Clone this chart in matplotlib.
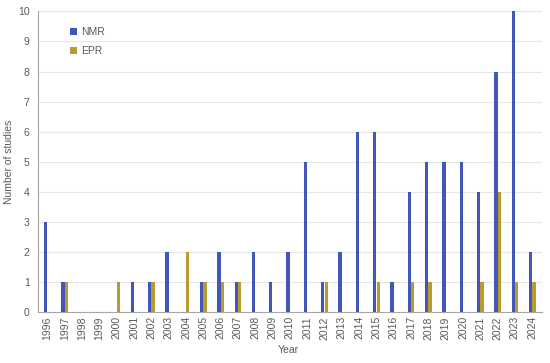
import matplotlib
matplotlib.use("Agg")
import matplotlib.pyplot as plt
import numpy as np

years = [str(y) for y in range(1996, 2025)]
nmr = [3, 1, 0, 0, 0, 1, 1, 2, 0, 1, 2, 1, 2, 1, 2, 5, 1, 2, 6, 6, 1, 4, 5, 5, 5, 4, 8, 10, 2]
epr = [0, 1, 0, 0, 1, 0, 1, 0, 2, 1, 1, 1, 0, 0, 0, 0, 1, 0, 0, 1, 0, 1, 1, 0, 0, 1, 4, 1, 1]

plt.rcParams['font.family'] = ['Liberation Sans', 'DejaVu Sans']
fig = plt.figure(figsize=(5.5, 3.63), dpi=100)
ax = fig.add_axes([0.069, 0.1405, 0.916, 0.828])

x = np.arange(len(years))
w = 0.19
c_nmr = '#4056b8'
c_epr = '#b99a30'
ax.bar(x - 0.1, nmr, width=w, color=c_nmr, label='NMR', zorder=3, linewidth=0)
ax.bar(x + 0.1, epr, width=w, color=c_epr, label='EPR', zorder=3, linewidth=0)

ax.set_xlim(-0.55, 28.55)
ax.set_ylim(0, 10)
ax.set_yticks(range(0, 11))
ax.set_xticks(x)
ax.set_xticklabels(years, rotation=90, fontsize=7.5, color='#595959')
ax.tick_params(axis='y', labelsize=7.5, colors='#595959', length=0, pad=6)
ax.tick_params(axis='x', length=0, pad=3)
ax.yaxis.grid(True, color='#e6e6e6', linewidth=0.8, zorder=0)
for s in ['top', 'right']:
    ax.spines[s].set_visible(False)
ax.spines['left'].set_color('#a6a6a6')
ax.spines['bottom'].set_color('#a6a6a6')
ax.spines['left'].set_linewidth(0.8)
ax.spines['bottom'].set_linewidth(0.8)

fig.text(0.016, 0.555, 'Number of studies', fontsize=7.5, color='#595959',
         rotation=90, ha='center', va='center')
fig.text(0.524, 0.022, 'Year', fontsize=7.5, color='#595959', ha='center', va='bottom')

leg = ax.legend(loc='upper left', bbox_to_anchor=(0.045, 0.98), frameon=False,
                fontsize=7.5, handlelength=0.7, handleheight=0.7, handletextpad=0.4,
                labelspacing=0.9)
for t in leg.get_texts():
    t.set_color('#595959')

fig.savefig('out.png', dpi=100)
